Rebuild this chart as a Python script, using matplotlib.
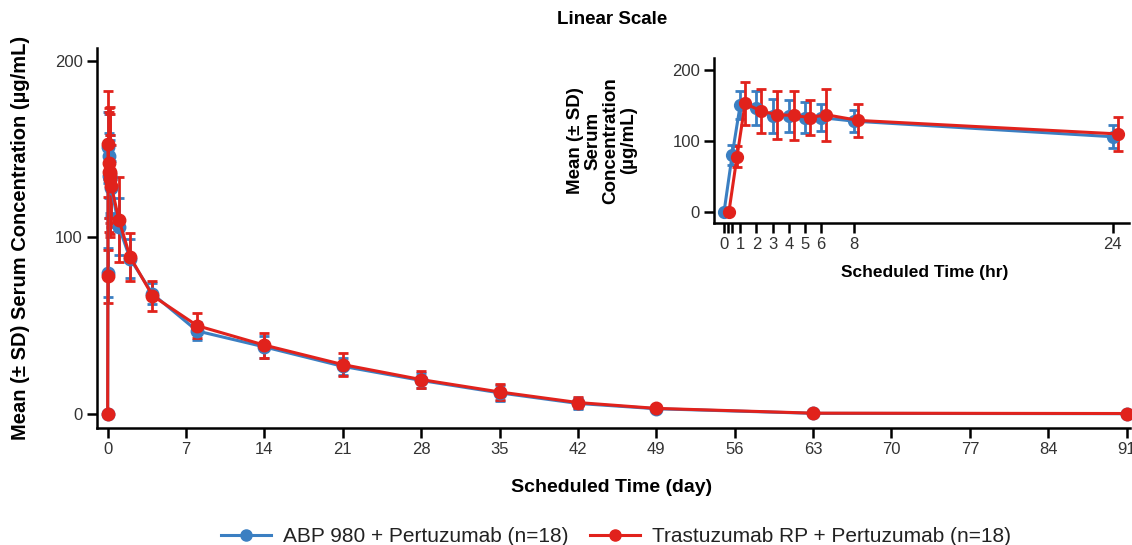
import matplotlib
matplotlib.use("Agg")
import matplotlib.pyplot as plt
from matplotlib.lines import Line2D
import numpy as np

plt.rcParams['font.family'] = ['Liberation Sans', 'DejaVu Sans']

# ---------------- data ----------------
# early sampling times (hours) shown in the inset
hours = [0, 0.5, 1, 2, 3, 4, 5, 6, 8, 24]
abp_hr_mean = [0, 80, 151, 146, 135, 135, 133, 133, 128, 106]
abp_hr_sd = [0, 14, 20, 24, 24, 23, 22, 19, 15, 16]
rp_hr_mean = [0, 78, 153, 142, 137, 136, 133, 137, 129, 110]
rp_hr_sd = [0, 15, 30, 31, 34, 34, 25, 37, 23, 24]

# later sampling times (days)
days_late = [2, 4, 8, 14, 21, 28, 35, 42, 49, 63, 91]
abp_day_mean = [88, 68, 47, 38, 27, 19, 12, 6, 3, 0.4, 0.2]
abp_day_sd = [11, 6, 5, 6, 5, 4.5, 4.5, 3, 2, 0.3, 0.2]
rp_day_mean = [89, 67, 50, 39, 28, 19.5, 12.5, 6.5, 3.2, 0.5, 0.3]
rp_day_sd = [13.5, 8.5, 7, 7, 6.3, 5, 4.7, 3, 2, 0.3, 0.2]

day_ticks = [0, 7, 14, 21, 28, 35, 42, 49, 56, 63, 70, 77, 84, 91]
hr_ticks = [0, 0.25, 0.5, 1, 2, 3, 4, 5, 6, 8, 24]
hr_ticklabels = ['0', '', '', '1', '2', '3', '4', '5', '6', '8', '24']

labels = ['ABP 980 + Pertuzumab (n=18)', 'Trastuzumab RP + Pertuzumab (n=18)']
colors = ['#3b7fc2', '#e1221c']

# ---------------- figure ----------------
W, H = 1132, 545
fig = plt.figure(figsize=(W / 100, H / 100), dpi=100)

def px_axes(l, r, t, b):
    return fig.add_axes([l / W, 1 - b / H, (r - l) / W, (b - t) / H])

ax = px_axes(96.7, 1130, 48.3, 428)
axi = px_axes(714, 1129, 58, 223)

main_days = np.concatenate([np.array(hours) / 24.0, days_late])
series_main = [
    (np.concatenate([abp_hr_mean, abp_day_mean]), np.concatenate([abp_hr_sd, abp_day_sd])),
    (np.concatenate([rp_hr_mean, rp_day_mean]), np.concatenate([rp_hr_sd, rp_day_sd])),
]
series_inset = [(abp_hr_mean, abp_hr_sd, 0.0), (rp_hr_mean, rp_hr_sd, 0.3)]

tick_color = '#333333'
for a in (ax, axi):
    for s in ['top', 'right']:
        a.spines[s].set_visible(False)
    for s in ['left', 'bottom']:
        a.spines[s].set_linewidth(1.8)
    a.tick_params(axis='both', which='major', length=7, width=1.8, direction='out',
                  labelsize=12, labelcolor=tick_color, pad=3)

for (m, sd), c in zip(series_main, colors):
    ax.errorbar(main_days, m, yerr=sd, fmt='-o', color=c, ms=9, lw=2.2,
                elinewidth=2.0, capsize=3.3, capthick=2.0, clip_on=False)

ax.set_xlim(-0.98, 91.3)
ax.set_ylim(-7.9, 207)
ax.set_xticks(day_ticks)
ax.set_yticks([0, 100, 200])
ax.set_xlabel('Scheduled Time (day)', fontsize=14, fontweight='bold')
ax.xaxis.set_label_coords(0.498, -0.158)
ax.xaxis.label.set_va('center')
ax.set_ylabel('Mean (± SD) Serum Concentration (µg/mL)', fontsize=14.5, fontweight='bold')
ax.yaxis.set_label_coords(-0.074, 0.5)
ax.yaxis.label.set_va('center')

for (m, sd, off), c in zip(series_inset, colors):
    axi.errorbar(np.array(hours) + off, m, yerr=sd, fmt='-o', color=c, ms=8.5, lw=2.2,
                 elinewidth=2.0, capsize=3.5, capthick=2.0, clip_on=False)

axi.set_xlim(-0.62, 25)
axi.set_ylim(-15.6, 217)
axi.set_xticks(hr_ticks)
axi.set_xticklabels(hr_ticklabels)
axi.set_yticks([0, 100, 200])
axi.set_xlabel('Scheduled Time (hr)', fontsize=12.5, fontweight='bold')
axi.xaxis.set_label_coords(0.508, -0.297)
axi.xaxis.label.set_va('center')
axi.set_ylabel('Mean (± SD)\nSerum\nConcentration\n(µg/mL)', fontsize=13.5, fontweight='bold',
               linespacing=1.05)
axi.yaxis.set_label_coords(-0.27, 0.5)
axi.yaxis.label.set_va('center')

fig.text(612 / W, 1 - 20 / H, 'Linear Scale', ha='center', va='center',
         fontsize=13.5, fontweight='bold')

handles = [Line2D([], [], color=c, marker='o', ms=8, lw=2.2) for c in colors]
fig.legend(handles, labels, loc='center', bbox_to_anchor=(616 / W, 1 - 537 / H),
           ncol=2, frameon=False, fontsize=15, handlelength=2.4, columnspacing=1.0,
           handletextpad=0.6, labelcolor='#222222')

fig.savefig('out.png', dpi=100)
